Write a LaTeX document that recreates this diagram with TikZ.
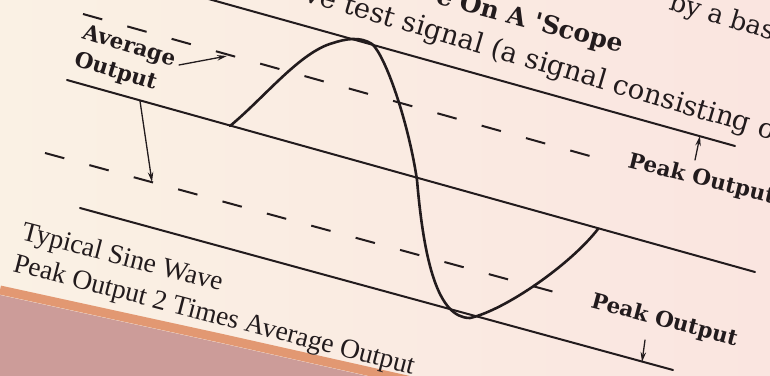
\documentclass[tikz,border=0pt]{standalone}
\usepackage{fontspec}
\newfontfamily\slabfont{DejaVu Serif}
\newfontfamily\capfont{Liberation Serif}
\usetikzlibrary{arrows.meta}

\definecolor{ink}{RGB}{34,27,29}
\definecolor{paperL}{RGB}{250,241,228}
\definecolor{paperR}{RGB}{250,229,224}
\definecolor{desk}{RGB}{204,156,153}
\definecolor{deskedge}{RGB}{226,152,114}

\begin{document}
\begin{tikzpicture}[x=1pt, y=-1pt, line cap=round, line join=round,
  levelline/.style={draw=ink, line width=2.0pt},
  avgline/.style={draw=ink, line width=2.0pt, line cap=butt, dash pattern=on 20pt off 26pt},
  wave/.style={draw=ink, line width=2.6pt},
  pointer/.style={draw=ink, line width=1.3pt, -{Stealth[length=10pt,width=5.5pt]}},
  boldlabel/.style={inner sep=0pt, anchor=base west, align=left, text=ink,
    font=\slabfont\bfseries\fontsize{21.5}{28}\selectfont},
  pagetext/.style={inner sep=0pt, rotate=-16.5, text=ink,
    font=\slabfont\fontsize{27.5}{33}\selectfont},
  captiontext/.style={inner sep=0pt, anchor=base west, align=left, text=ink,
    font=\capfont\fontsize{27.5}{33}\selectfont}]

  %% ════ paper and desk ════
  \fill[left color=paperL, right color=paperR] (0,0) rectangle (770,375);
  \fill[desk] (0,295) -- (220,343) -- (425,389) -- (0,389) -- cycle;
  \draw[deskedge, line width=9pt, line cap=butt] (0,290) -- (220,338) -- (425,384);

  %% ════ level lines (end points) ════
  \coordinate (topA) at (205,-2);  \coordinate (topB) at (735,146);
  \coordinate (posA) at (83,14);   \coordinate (posB) at (597,158);
  \coordinate (midA) at (67,80);   \coordinate (midB) at (755,272);
  \coordinate (negA) at (45,153);  \coordinate (negB) at (558,293);
  \coordinate (botA) at (80,208);  \coordinate (botB) at (673,370);

  \draw[levelline] (topA) -- (topB);
  \draw[avgline]   (posA) -- (posB);
  \draw[levelline] (midA) -- (midB);
  \draw[avgline]   (negA) -- (negB);
  \draw[levelline] (botA) -- (botB);

  %% ════ sine wave (starts and ends on the middle line) ════
  \coordinate (waveA) at (230,126);
  \coordinate (waveB) at (598,229);
  \draw[wave] (waveA) .. controls (265,97) and (300,52) .. (333,43)
              .. controls (345,39) and (360,36) .. (372,44)
              .. controls (385,55) and (408,120) .. (417,180)
              .. controls (424,262) and (438,318) .. (470,318)
              .. controls (505,310) and (570,265) .. (waveB);

  %% ════ page text round the figure ════
  \node[pagetext, anchor=base west] (textline) at (303,1) {ve test signal (a signal consisting o};
  \node[pagetext, anchor=base west, font=\slabfont\fontsize{26}{31}\selectfont] (textabove) at (668,9) {by a bas};
  \node[pagetext, rotate=1.5, anchor=base east, font=\slabfont\bfseries\fontsize{25}{30}\selectfont] (heading) at (621,53) {e On A 'Scope};

  %% ════ labels ════
  \node[boldlabel, rotate=-17] (avglabel) at (73,65) {Average\\Output};
  \node[boldlabel, rotate=-14] (peaktop) at (627,167) {Peak Output};
  \node[boldlabel, rotate=-15] (peakbot) at (590,307) {Peak Output};
  \node[captiontext, rotate=-14.5] (caption) at (12,271) {Typical Sine Wave\\Peak Output 2 Times Average Output};

  %% ════ pointers ════
  \coordinate (avgtail) at (179,65);   \coordinate (avgtip) at (227,56);
  \coordinate (negtail) at (140,101);  \coordinate (negtip) at (152,182);
  \coordinate (pktail) at (695,160);   \coordinate (pktip) at (700,136);
  \coordinate (pbtail) at (645,340);   \coordinate (pbtip) at (642,362);
  \draw[pointer] (avgtail) -- (avgtip);
  \draw[pointer] (negtail) -- (negtip);
  \draw[pointer] (pktail) -- (pktip);
  \draw[pointer] (pbtail) -- (pbtip);

  \pgfresetboundingbox
  \path[use as bounding box] (0,0) rectangle (770,375);
\end{tikzpicture}
\end{document}
